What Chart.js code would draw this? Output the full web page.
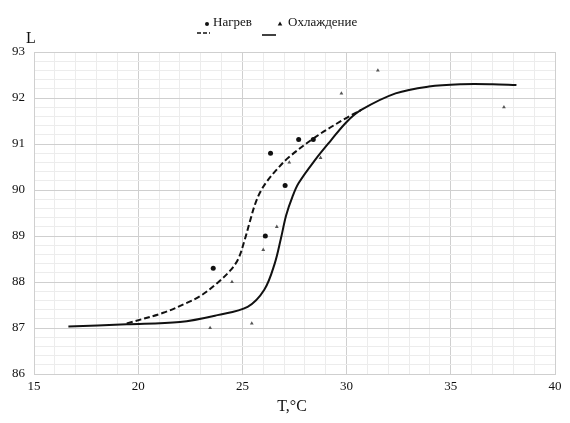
<!DOCTYPE html>
<html>
<head>
<meta charset="utf-8">
<script src="https://cdn.jsdelivr.net/npm/chart.js@4.4.1/dist/chart.umd.min.js"></script>
<style>
  html, body { margin: 0; padding: 0; background: #fff; }
  #wrap { width: 570px; height: 423px; }
</style>
</head>
<body>
<div id="wrap"><canvas id="chart" width="570" height="423"></canvas></div>
<script>
// measured points, heating (dots) and cooling (triangles)
const heatX = [23.6, 26.1, 26.35, 27.05, 27.7, 28.4];
const heatY = [88.3, 89.0, 90.8, 90.1, 91.1, 91.1];
const coolX = [23.45, 24.5, 25.45, 26.0, 26.65, 27.25, 28.75, 29.75, 31.5, 37.55];
const coolY = [87.0, 88.0, 87.1, 88.7, 89.2, 90.6, 90.7, 92.1, 92.6, 91.8];

// fitted curves
const heatCurveX = [19.45, 21.2, 22.3, 23.0, 23.8, 24.4, 24.8, 25.1, 25.35, 25.6, 25.85, 26.15, 26.6, 27.2, 28.5, 30.0, 30.7];
const heatCurveY = [87.1, 87.33, 87.54, 87.7, 87.98, 88.24, 88.5, 88.9, 89.3, 89.68, 89.95, 90.17, 90.42, 90.7, 91.15, 91.57, 91.74];
const coolCurveX = [16.65, 19.45, 22.0, 23.8, 25.25, 26.05, 26.55, 26.85, 27.1, 27.4, 27.7, 28.5, 29.25, 30.0, 30.7, 32.35, 33.95, 35.5, 37.0, 38.15];
const coolCurveY = [87.03, 87.08, 87.13, 87.28, 87.46, 87.83, 88.4, 88.95, 89.45, 89.85, 90.15, 90.66, 91.08, 91.48, 91.74, 92.1, 92.25, 92.3, 92.3, 92.28];

const seriesNames = ['Нагрев', 'Охлаждение'];
const xTitle = 'T,°C';
const yTitle = 'L';

const SERIF = '"Liberation Serif", "Times New Roman", serif';
const zip = (xs, ys) => xs.map((x, i) => ({ x, y: ys[i] }));
const isWhole = (v, step) => Math.abs(v / step - Math.round(v / step)) < 1e-6;

// legend + axis titles drawn by hand (line sample with marker, like the original)
const extras = {
  id: 'extras',
  afterDraw(chart) {
    const ctx = chart.ctx;
    ctx.save();
    ctx.fillStyle = '#111';
    ctx.strokeStyle = '#111';
    ctx.lineWidth = 1.6;

    // Нагрев
    ctx.setLineDash([4, 2]);
    ctx.beginPath(); ctx.moveTo(197, 33); ctx.lineTo(210, 33); ctx.stroke();
    ctx.setLineDash([]);
    ctx.beginPath(); ctx.arc(207, 24, 2, 0, Math.PI * 2); ctx.fill();
    // Охлаждение
    ctx.beginPath(); ctx.moveTo(262, 35); ctx.lineTo(276, 35); ctx.stroke();
    ctx.beginPath(); ctx.moveTo(280, 21.5); ctx.lineTo(282.3, 25.5); ctx.lineTo(277.7, 25.5); ctx.closePath(); ctx.fill();

    ctx.font = '13px ' + SERIF;
    ctx.textBaseline = 'middle';
    ctx.textAlign = 'left';
    ctx.fillText(seriesNames[0], 213, 23);
    ctx.fillText(seriesNames[1], 288, 23);

    ctx.font = '16px ' + SERIF;
    ctx.textAlign = 'center';
    ctx.fillText(yTitle, 31, 39);
    ctx.fillText(xTitle, 292, 407);
    ctx.restore();
  }
};

new Chart(document.getElementById('chart'), {
  type: 'scatter',
  data: {
    datasets: [
      {
        label: seriesNames[0] + ' (кривая)', data: zip(heatCurveX, heatCurveY),
        showLine: true, borderColor: '#111', borderWidth: 2, borderDash: [6, 3],
        pointRadius: 0, tension: 0.35, fill: false
      },
      {
        label: seriesNames[1] + ' (кривая)', data: zip(coolCurveX, coolCurveY),
        showLine: true, borderColor: '#111', borderWidth: 2,
        pointRadius: 0, tension: 0.35, fill: false
      },
      {
        label: seriesNames[0], data: zip(heatX, heatY),
        pointStyle: 'circle', pointRadius: 2.5, backgroundColor: '#111', borderColor: '#111', borderWidth: 0
      },
      {
        label: seriesNames[1], data: zip(coolX, coolY),
        pointStyle: 'triangle', pointRadius: 2.2, backgroundColor: '#555', borderColor: '#555', borderWidth: 0
      }
    ]
  },
  options: {
    responsive: false,
    animation: false,
    layout: { padding: { top: 52, right: 15, left: 0, bottom: 0 } },
    plugins: { legend: { display: false }, tooltip: { enabled: false } },
    scales: {
      x: {
        type: 'linear', min: 15, max: 40,
        afterFit: s => { s.height = 49; },
        ticks: {
          stepSize: 1, padding: 5, color: '#111', autoSkip: false, maxRotation: 0,
          font: { family: SERIF, size: 13 },
          callback: v => isWhole(v, 5) ? String(Math.round(v)) : ''
        },
        grid: {
          drawTicks: false,
          color: c => isWhole(c.tick.value, 5) ? '#cfcfcf' : '#ececec',
          lineWidth: 1
        },
        border: { color: '#cfcfcf' }
      },
      y: {
        type: 'linear', min: 86, max: 93,
        afterFit: s => { s.width = 34; },
        ticks: {
          stepSize: 0.2, padding: 9, color: '#111', autoSkip: false,
          font: { family: SERIF, size: 13 },
          callback: v => isWhole(v, 1) ? String(Math.round(v)) : ''
        },
        grid: {
          drawTicks: false,
          color: c => isWhole(c.tick.value, 1) ? '#cfcfcf' : '#ececec',
          lineWidth: 1
        },
        border: { color: '#cfcfcf' }
      }
    }
  },
  plugins: [extras]
});
</script>
</body>
</html>
